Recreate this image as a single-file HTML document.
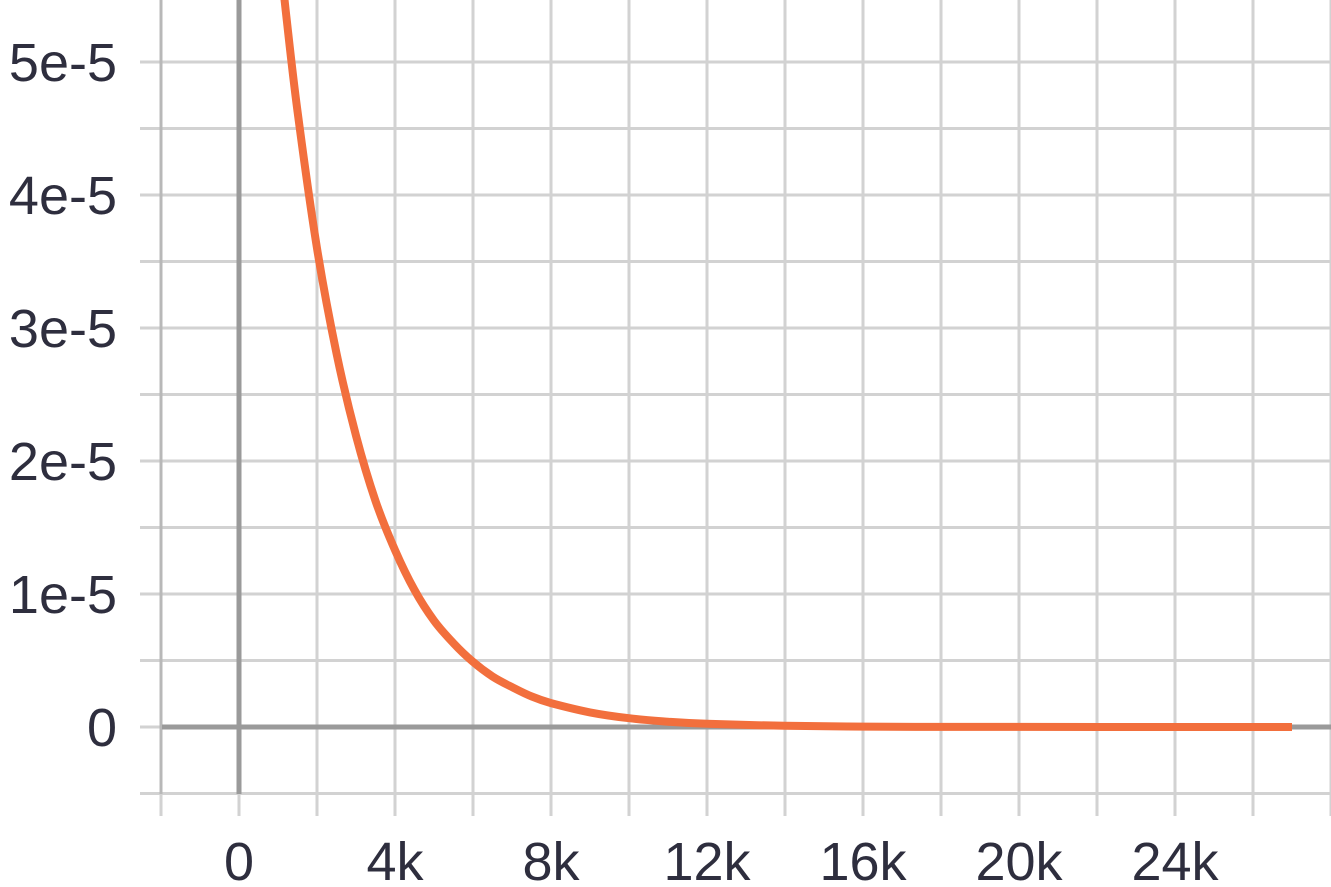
<!DOCTYPE html>
<html><head><meta charset="utf-8">
<style>
html,body{margin:0;padding:0;background:#fff;}
svg{display:block;}
text{font-family:"Liberation Sans",sans-serif;font-size:54px;fill:#2e2e3e;}
</style></head>
<body>
<svg id="chart" width="1331" height="887" viewBox="0 0 1331 887">
<defs><clipPath id="plotclip"><rect x="0" y="0" width="1331" height="794"/></clipPath></defs>
<g id="grid"></g>
<g id="axes"></g>
<g id="labels"></g>
<g id="series" clip-path="url(#plotclip)"></g>
</svg>
<script>
const xs = [1000,1200,1500,2000,2500,3000,3500,4000,4500,5000,5500,6000,6500,7000,7500,8000,9000,10000,11000,12000,14000,16000,18000,20000,24000,27000];
const ys = [5.94e-5,5.38e-5,4.63e-5,3.6e-5,2.81e-5,2.19e-5,1.70e-5,1.33e-5,1.03e-5,0.80e-5,0.63e-5,0.49e-5,0.38e-5,0.30e-5,0.23e-5,0.18e-5,0.11e-5,0.066e-5,0.040e-5,0.024e-5,0.009e-5,0.003e-5,0.001e-5,0.0004e-5,0,0];
const xTickVals = [0,4000,8000,12000,16000,20000,24000];
const xTickLabels = ["0","4k","8k","12k","16k","20k","24k"];
const yTickVals = [0,1e-5,2e-5,3e-5,4e-5,5e-5];
const yTickLabels = ["0","1e-5","2e-5","3e-5","4e-5","5e-5"];

const NS="http://www.w3.org/2000/svg";
function X(v){return 239 + v*(78/2000);}
function Y(v){return 727 - v*(133/1e-5);}
function mk(tag,attrs,parent){const e=document.createElementNS(NS,tag);for(const k in attrs)e.setAttribute(k,attrs[k]);parent.appendChild(e);return e;}
const grid=document.getElementById('grid'),axes=document.getElementById('axes'),labels=document.getElementById('labels'),series=document.getElementById('series');

for(let v=-2000; X(v)<=1331; v+=2000){
  const l=mk('line',{x1:X(v),x2:X(v),y1:0,y2:816,stroke:'#d2d2d2','stroke-width':3},grid);
  
  
}
for(let v=-0.5e-5; Y(v)>=0; v+=0.5e-5){
  const l=mk('line',{x1:140,x2:1331,y1:Y(v),y2:Y(v),stroke:'#d2d2d2','stroke-width':3},grid);
  
  
}
let a=mk('line',{x1:X(-2000),x2:X(-2000),y1:0,y2:794,stroke:'#b8b8b8','stroke-width':3},axes);


a=mk('line',{x1:162,x2:1331,y1:Y(0),y2:Y(0),stroke:'#9a9a9a','stroke-width':5},axes);


a=mk('line',{x1:X(0),x2:X(0),y1:0,y2:794,stroke:'#9a9a9a','stroke-width':5},axes);



xTickVals.forEach((v,i)=>{
  const t=mk('text',{x:X(v),y:880,'text-anchor':'middle'},labels);
  t.textContent=xTickLabels[i];
  
  
});
yTickVals.forEach((v,i)=>{
  const t=mk('text',{x:117,y:Y(v)+19,'text-anchor':'end'},labels);
  t.textContent=yTickLabels[i];
  
  
});

const pts=xs.map((x,i)=>[X(x),Y(ys[i])]);
let d='M'+pts[0][0].toFixed(1)+','+pts[0][1].toFixed(1);
for(let i=0;i<pts.length-1;i++){
  const p0=pts[Math.max(0,i-1)],p1=pts[i],p2=pts[i+1],p3=pts[Math.min(pts.length-1,i+2)];
  const c1=[p1[0]+(p2[0]-p0[0])/6,p1[1]+(p2[1]-p0[1])/6];
  const c2=[p2[0]-(p3[0]-p1[0])/6,p2[1]-(p3[1]-p1[1])/6];
  d+='C'+c1[0].toFixed(1)+','+c1[1].toFixed(1)+' '+c2[0].toFixed(1)+','+c2[1].toFixed(1)+' '+p2[0].toFixed(1)+','+p2[1].toFixed(1);
}
const p=mk('path',{d:d,fill:'none',stroke:'#f26f3d','stroke-width':8,'stroke-linejoin':'round'},series);


</script>
</body></html>
